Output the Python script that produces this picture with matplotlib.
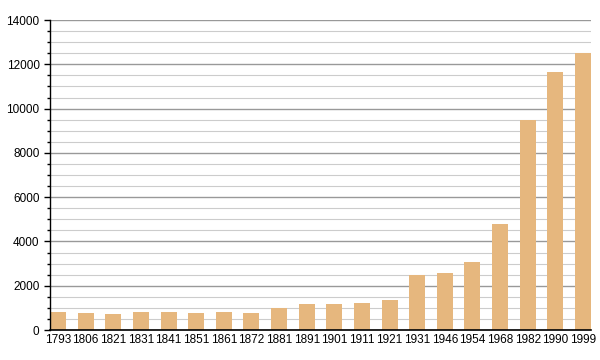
import matplotlib.pyplot as plt
from matplotlib.ticker import MultipleLocator

years = ["1793", "1806", "1821", "1831", "1841", "1851", "1861", "1872", "1881", "1891",
         "1901", "1911", "1921", "1931", "1946", "1954", "1968", "1982", "1990", "1999"]
population = [813, 768, 737, 813, 813, 768, 813, 768, 994, 1160,
              1175, 1220, 1355, 2484, 2575, 3071, 4788, 9484, 11652, 12510]

plt.rcParams["font.family"] = ["Liberation Sans", "DejaVu Sans"]

fig = plt.figure(figsize=(6, 3.6), dpi=100, facecolor="white")
ax = fig.add_axes([0.0833, 0.0833, 0.9017, 0.861])

w = 0.58
x = list(range(len(years)))
ax.bar(x, population, width=w, color="#e6b77e", zorder=3)

ax.set_xlim(-w / 2, len(years) - 1 + w / 2)
ax.set_ylim(0, 14000)
ax.set_xticks(x)
ax.set_xticklabels(years, fontsize=8.5)
ax.yaxis.set_major_locator(MultipleLocator(2000))
ax.yaxis.set_minor_locator(MultipleLocator(500))
ax.tick_params(axis="y", labelsize=8.5, length=4, width=1, color="black")
ax.tick_params(axis="y", which="minor", length=2.5, width=1)
ax.tick_params(axis="x", length=0, pad=3)

ax.grid(axis="y", which="major", color="#999999", linewidth=1, zorder=0)
ax.grid(axis="y", which="minor", color="#cccccc", linewidth=0.8, zorder=0)

for s in ["top", "right"]:
    ax.spines[s].set_visible(False)
ax.spines["left"].set_linewidth(1)
ax.spines["bottom"].set_linewidth(1.2)
ax.spines["left"].set_zorder(4)
ax.spines["bottom"].set_zorder(4)

plt.savefig("out.png", dpi=100, facecolor="white")
